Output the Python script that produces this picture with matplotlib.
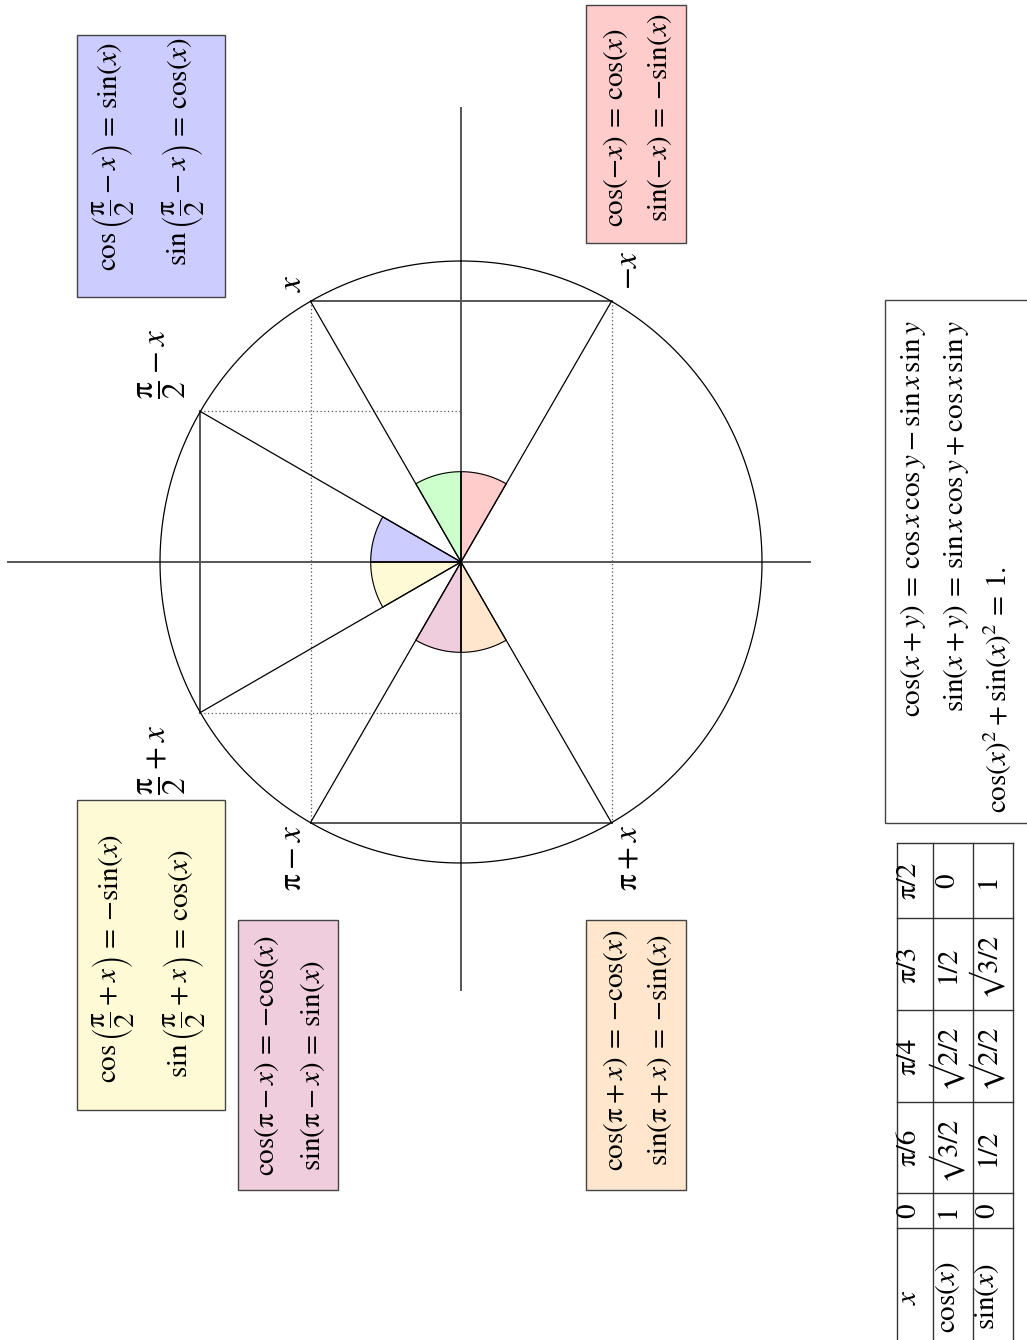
import numpy as np
import matplotlib
matplotlib.use("Agg")
import matplotlib.pyplot as plt
from matplotlib.patches import Rectangle

plt.rcParams['mathtext.fontset'] = 'stix'
plt.rcParams['font.family'] = 'STIXGeneral'

P = r'\mathrm{\pi}'

# angles (degrees) of the points on the unit circle, with their labels
point_deg = [30, 60, 120, 150, 210, -30]
point_labels = [r'$x$', r'$\dfrac{%s}{2}-x$' % P, r'$\dfrac{%s}{2}+x$' % P,
                r'$%s-x$' % P, r'$%s+x$' % P, r'$-x$']
label_deg = [31, 56.5, 123.5, 150.5, 209.5, -30]
label_r = [1.08, 1.19, 1.19, 1.13, 1.13, 1.12]

# small coloured sectors at the centre
sector_start = [-30, 0, 60, 90, 150, 180]
sector_end = [0, 30, 90, 120, 180, 210]
sector_colors = ['#ffcccc', '#ccffcc', '#ccccff', '#fffad6', '#f0cddc', '#ffe6cc']
sector_r = 0.3

# chords between points (indices into point_deg)
solid_chords = [(0, 5), (3, 4), (1, 2)]
dotted_chords = [(0, 3), (5, 4)]
dotted_drops = [1, 2]   # dropped onto the horizontal axis

# value table
table_head = [r'$x$', '0', 'π/6', 'π/4', 'π/3', 'π/2']
table_cos = [r'$\cos(x)$', '1', '√3/2', '√2/2', '1/2', '0']
table_sin = [r'$\sin(x)$', '0', '1/2', '√2/2', '√3/2', '1']


def rot(u, v):
    # the whole picture is turned a quarter turn to the left
    return -np.asarray(v), np.asarray(u)


fig = plt.figure(figsize=(10.27, 13.4), dpi=100)
ax = fig.add_axes([0, 0, 1, 1])
ax.set_xlim(-1.5316, 1.8804)
ax.set_ylim(-2.5847, 1.8671)
ax.axis('off')

FS = 21
GRAY = '#555555'

# sectors
for a, b, c in zip(sector_start, sector_end, sector_colors):
    t = np.radians(np.linspace(a, b, 60))
    u = np.concatenate([[0], sector_r * np.cos(t), [0]])
    v = np.concatenate([[0], sector_r * np.sin(t), [0]])
    X, Y = rot(u, v)
    ax.fill(X, Y, color=c, zorder=1)
    ax.plot(X, Y, color='black', lw=0.8, zorder=3)

# axes
X, Y = rot([-1.422, 1.508], [0, 0])
ax.plot(X, Y, color=GRAY, lw=1.4, zorder=2)
X, Y = rot([0, 0], [-1.16, 1.505])
ax.plot(X, Y, color=GRAY, lw=1.4, zorder=2)

# unit circle
t = np.linspace(0, 2 * np.pi, 500)
X, Y = rot(np.cos(t), np.sin(t))
ax.plot(X, Y, color='black', lw=0.9, zorder=3)

pu = np.cos(np.radians(point_deg))
pv = np.sin(np.radians(point_deg))

for i, j in solid_chords:
    X, Y = rot([pu[i], pu[j]], [pv[i], pv[j]])
    ax.plot(X, Y, color=GRAY, lw=1.4, zorder=2)
for i, j in dotted_chords:
    X, Y = rot([pu[i], pu[j]], [pv[i], pv[j]])
    ax.plot(X, Y, color=GRAY, lw=0.9, ls=(0, (1, 2)), zorder=2)
for i in dotted_drops:
    X, Y = rot([pu[i], pu[i]], [pv[i], 0])
    ax.plot(X, Y, color=GRAY, lw=0.9, ls=(0, (1, 2)), zorder=2)

# radii
for i in range(len(point_deg)):
    X, Y = rot([0, pu[i]], [0, pv[i]])
    ax.plot(X, Y, color='black', lw=0.9, zorder=3)

# point labels
for lab, d, r in zip(point_labels, label_deg, label_r):
    X, Y = rot(r * np.cos(np.radians(d)), r * np.sin(np.radians(d)))
    ax.text(X, Y, lab, fontsize=FS + 3, rotation=90, ha='center', va='center')


def box(x0, x1, y0, y1, fc):
    ax.add_patch(Rectangle((x0, y0), x1 - x0, y1 - y0, facecolor=fc,
                           edgecolor='#444444', lw=1.0, zorder=4))


def eq(xb, yeq, lhs, rhs, gap=0.012):
    # lhs ends just before the '=' sign, rhs starts with it
    ax.text(xb, yeq - gap, '$' + lhs + '$', fontsize=FS, rotation=90,
            rotation_mode='anchor', ha='right', va='baseline', zorder=5)
    ax.text(xb, yeq - gap, r'$\,=\,' + rhs + '$', fontsize=FS, rotation=90,
            rotation_mode='anchor', ha='left', va='baseline', zorder=5)


# identity boxes
box(-1.276, -0.784, 0.880, 1.751, '#ccccff')
eq(-1.143, 1.402, r'\cos\left(\dfrac{%s}{2}-x\right)' % P, r'\sin(x)')
eq(-0.910, 1.402, r'\sin\left(\dfrac{%s}{2}-x\right)' % P, r'\cos(x)')

box(0.415, 0.748, 1.060, 1.850, '#ffcccc')
eq(0.538, 1.429, r'\cos(-x)', r'\cos(x)')
eq(0.684, 1.429, r'\sin(-x)', r'{-}\sin(x)')

box(-1.276, -0.784, -1.821, -0.791, '#fffad6')
eq(-1.140, -1.296, r'\cos\left(\dfrac{%s}{2}+x\right)' % P, r'{-}\sin(x)')
eq(-0.907, -1.296, r'\sin\left(\dfrac{%s}{2}+x\right)' % P, r'\cos(x)')

box(-0.741, -0.409, -2.086, -1.189, '#f0cddc')
eq(-0.621, -1.648, r'\cos(%s-x)' % P, r'{-}\cos(x)')
eq(-0.468, -1.648, r'\sin(%s-x)' % P, r'\sin(x)')

box(0.415, 0.748, -2.086, -1.189, '#ffe6cc')
eq(0.538, -1.63, r'\cos(%s+x)' % P, r'{-}\cos(x)')
eq(0.684, -1.63, r'\sin(%s+x)' % P, r'{-}\sin(x)')

# addition formulas
box(1.4086, 1.95, -0.867, 0.870, 'white')
eq(1.525, -0.126, r'\cos(x+y)', r'\cos x\,\cos y-\sin x\,\sin y')
eq(1.668, -0.126, r'\sin(x+y)', r'\sin x\,\cos y+\cos x\,\sin y')
ax.text(1.815, -0.834, r'$\cos(x)^2+\sin(x)^2\,=\,1.$', fontsize=FS, rotation=90,
        rotation_mode='anchor', ha='left', va='baseline', zorder=5)

# table
col_edges = [-2.671, -2.2126, -2.0963, -1.794, -1.488, -1.183, -0.934]
row_edges = [1.4485, 1.568, 1.701, 1.834]
row_base = [1.510, 1.640, 1.772]
for y in col_edges:
    ax.plot([row_edges[0], row_edges[-1]], [y, y], color='#333333', lw=1.0)
for x in row_edges:
    ax.plot([x, x], [col_edges[0], col_edges[-1]], color='#333333', lw=1.0)
for xb, row in zip(row_base, [table_head, table_cos, table_sin]):
    for k, s in enumerate(row):
        yc = 0.5 * (col_edges[k] + col_edges[k + 1])
        ax.text(xb, yc, s, fontsize=FS, rotation=90, rotation_mode='anchor',
                ha='center', va='baseline')

fig.savefig('out.png', dpi=100)
